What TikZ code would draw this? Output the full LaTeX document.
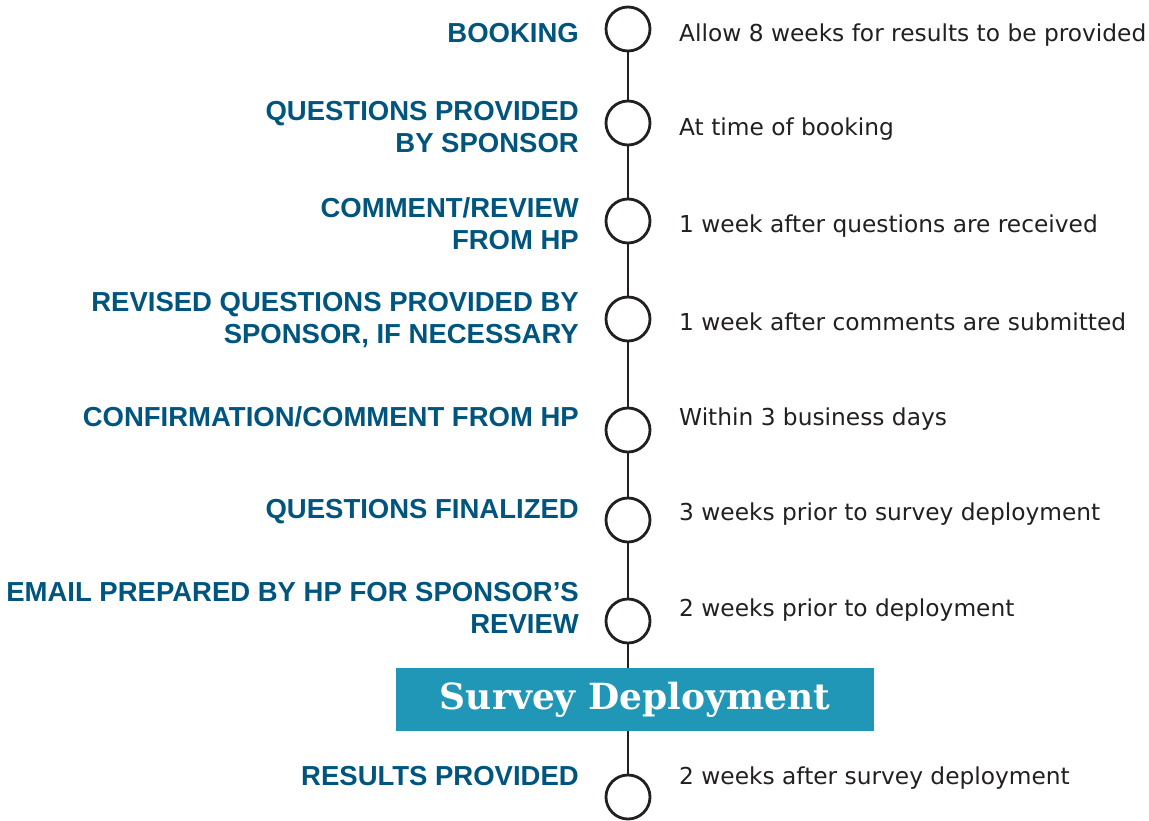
\documentclass[tikz,border=0pt]{standalone}
\usepackage{fontspec}
\setmainfont{DejaVu Sans}
\newfontfamily\labelfont{Liberation Sans}
\newfontfamily\slabfont{DejaVu Serif}
\definecolor{hpblue}{HTML}{00557F}
\definecolor{deploybg}{HTML}{2197B8}
\definecolor{inkgray}{HTML}{231F20}
\begin{document}
\begin{tikzpicture}[x=1pt, y=-1pt,
    steplabel/.style={anchor=east, align=right, text=hpblue, inner sep=0pt,
        font=\labelfont\bfseries\fontsize{27.5}{32}\selectfont},
    stepnote/.style={anchor=west, text=inkgray, inner sep=0pt,
        font=\fontsize{23.3}{28}\selectfont},
    milestone/.style={circle, draw=inkgray, line width=2.8pt, fill=white,
        minimum size=44pt, inner sep=0pt},
    timeline/.style={draw=inkgray, line width=2pt}]
        \useasboundingbox (0,0) rectangle (1149,820);

        % milestones on the time line
        \node[milestone] (c1) at (628,29) {};
        \node[milestone] (c2) at (628,123) {};
        \node[milestone] (c3) at (628,221) {};
        \node[milestone] (c4) at (628,319) {};
        \node[milestone] (c5) at (628,430) {};
        \node[milestone] (c6) at (628,520) {};
        \node[milestone] (c7) at (628,621) {};
        \node[milestone] (c8) at (628,797) {};

        % time line
        \draw[timeline] (c1) -- (c2) -- (c3) -- (c4) -- (c5) -- (c6) -- (c7) -- (c8);

        % deployment banner
        \node[fill=deploybg, text=white, minimum width=478pt, minimum height=63pt,
            font=\slabfont\bfseries\fontsize{36}{40}\selectfont] (deploy) at (635,699.5) {Survey Deployment};

        % steps
        \node[steplabel] (l1) at (579,33) {BOOKING};
        \node[steplabel] (l2) at (579,127) {QUESTIONS PROVIDED\\BY SPONSOR};
        \node[steplabel] (l3) at (579,224) {COMMENT/REVIEW\\FROM HP};
        \node[steplabel] (l4) at (579,320) {REVISED QUESTIONS PROVIDED BY\\SPONSOR, IF NECESSARY};
        \node[steplabel] (l5) at (579,417) {CONFIRMATION/COMMENT FROM HP};
        \node[steplabel] (l6) at (579,512) {QUESTIONS FINALIZED};
        \node[steplabel] (l7) at (579,608) {EMAIL PREPARED BY HP FOR SPONSOR’S\\REVIEW};
        \node[steplabel] (l8) at (579,776) {RESULTS PROVIDED};

        % timing notes
        \node[stepnote] (n1) at (679,35) {Allow 8 weeks for results to be provided};
        \node[stepnote] (n2) at (679,129) {At time of booking};
        \node[stepnote] (n3) at (679,226) {1 week after questions are received};
        \node[stepnote] (n4) at (679,322) {1 week after comments are submitted};
        \node[stepnote] (n5) at (679,419) {Within 3 business days};
        \node[stepnote] (n6) at (679,514) {3 weeks prior to survey deployment};
        \node[stepnote] (n7) at (679,610) {2 weeks prior to deployment};
        \node[stepnote] (n8) at (679,778) {2 weeks after survey deployment};
\end{tikzpicture}
\end{document}
